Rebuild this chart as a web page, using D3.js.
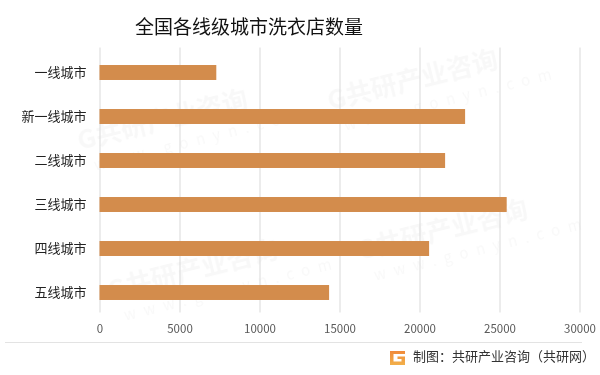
<!DOCTYPE html>
<html>
<head>
<meta charset="utf-8">
<script src="https://cdn.jsdelivr.net/npm/d3@7"></script>
<style>
  body { margin: 0; background: #fff; }
  svg { display: block; font-family: "Microsoft YaHei", "Noto Sans CJK SC", sans-serif; }
  .grid line { stroke: #d9d9d9; stroke-width: 1; }
  .grid path { display: none; }
</style>
</head>
<body>
<div id="chart"></div>
<script>
const cities = ['一线城市', '新一线城市', '二线城市', '三线城市', '四线城市', '五线城市']
const shops = [7300, 22850, 21600, 25450, 20600, 14350]
const ticks = [0, 5000, 10000, 15000, 20000, 25000, 30000]

const W = 600, H = 375
const margin = { top: 50.5, left: 99.5, right: 20.5, bottom: 60.5 }

const svg = d3.select('#chart').append('svg')
    .attr('width', W)
    .attr('height', H)

// faint watermarks
const wm = svg.append('g').attr('fill', '#000').attr('opacity', 0.03)
const wmPos = [[80, 150], [330, 110], [110, 300], [360, 260]]
wmPos.forEach(p => {
    const g = wm.append('g').attr('transform', `translate(${p[0]},${p[1]}) rotate(-14)`)
    g.append('text').attr('font-size', 26).attr('font-weight', 'bold').text('G共研产业咨询')
    g.append('text').attr('y', 24).attr('x', 10).attr('font-size', 15)
        .attr('letter-spacing', 8).text('www.gonyn.com')
})

const x = d3.scaleLinear()
    .domain([0, 30000])
    .range([margin.left, W - margin.right])

const y = d3.scaleBand()
    .domain(cities)
    .range([margin.top, H - margin.bottom])
    .paddingInner(0.66)
    .paddingOuter(0.33)

svg.append('g')
    .attr('class', 'grid')
    .attr('transform', 'translate(0,' + (margin.top - 3) + ')')
    .call(d3.axisBottom(x).tickValues(ticks).tickSize(H - margin.bottom - margin.top + 1).tickFormat(''))

svg.selectAll('rect.bar')
    .data(shops)
    .enter()
    .append('rect')
    .attr('class', 'bar')
    .attr('x', x(0))
    .attr('y', (_, i) => y(cities[i]))
    .attr('width', d => x(d) - x(0))
    .attr('height', y.bandwidth())
    .attr('fill', '#d38c4c')

// category labels
svg.append('g')
    .attr('transform', 'translate(' + (margin.left - 13) + ',0)')
    .call(d3.axisLeft(y).tickSize(0).tickPadding(0))
    .call(g => g.select('.domain').remove())
    .call(g => g.selectAll('text')
        .attr('font-size', 13)
        .attr('fill', '#222')
        .attr('font-family', '"Microsoft YaHei", "Noto Sans CJK SC", sans-serif'))

// value ticks
svg.append('g')
    .attr('transform', 'translate(0,' + (H - margin.bottom + 2) + ')')
    .call(d3.axisBottom(x).tickValues(ticks).tickSize(0).tickPadding(8).tickFormat(d3.format('d')))
    .call(g => g.select('.domain').remove())
    .call(g => g.selectAll('text')
        .attr('font-size', 11.5)
        .attr('fill', '#595959')
        .attr('font-family', '"Microsoft YaHei", "Noto Sans CJK SC", sans-serif'))

// title
svg.append('text')
    .attr('x', 249)
    .attr('y', 34)
    .attr('text-anchor', 'middle')
    .attr('font-size', 19)
    .attr('fill', '#111')
    .text('全国各线级城市洗衣店数量')

// footer
svg.append('line')
    .attr('x1', 5).attr('x2', 582)
    .attr('y1', 342.5).attr('y2', 342.5)
    .attr('stroke', '#e3e3e3')

const grad = svg.append('defs').append('linearGradient')
    .attr('id', 'lg').attr('x1', 0).attr('y1', 0).attr('x2', 0).attr('y2', 1)
grad.append('stop').attr('offset', 0).attr('stop-color', '#f08a3a')
grad.append('stop').attr('offset', 1).attr('stop-color', '#f2b04a')

svg.append('path')
    .attr('d', 'M390,351 H405 V354 H393.5 V361.5 H401.5 V359 H397.5 V356.5 H405 V365 H390 Z')
    .attr('fill', 'url(#lg)')

svg.append('text')
    .attr('x', 413)
    .attr('y', 361)
    .attr('font-size', 13)
    .attr('fill', '#333')
    .text('制图：共研产业咨询（共研网）')
</script>
</body>
</html>
